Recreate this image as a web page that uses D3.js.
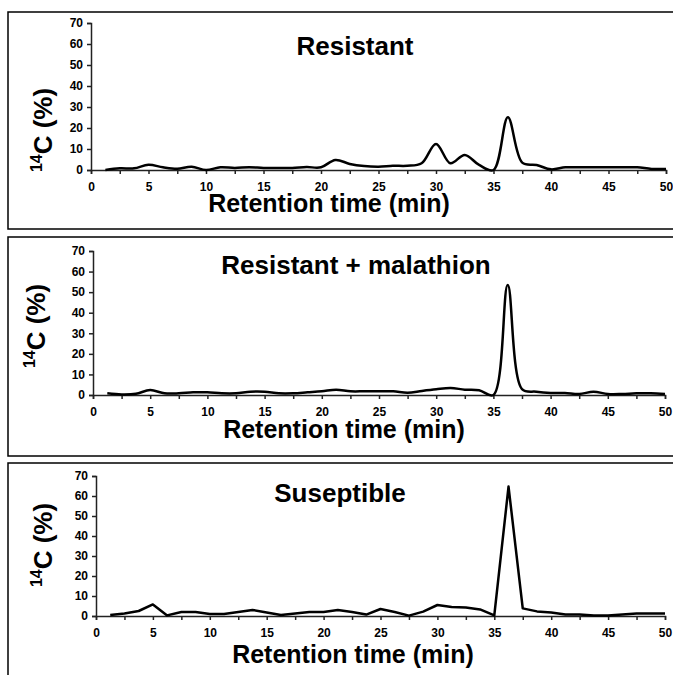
<!DOCTYPE html>
<html lang="en">
<head>
<meta charset="utf-8">
<title>Retention time chromatograms</title>
<script src="https://d3js.org/d3.v7.min.js"></script>
<style>
body { margin: 0; background: #fff; }
svg { display: block; font-family: Arial, "Liberation Sans", sans-serif; font-weight: bold; }
.tick text { font-size: 12px; font-weight: bold; fill: #000; }
</style>
</head>
<body>
<svg width="673" height="675"></svg>
<script>
// fraction times (min), one fraction every 1.25 min
var times = [1.25, 2.5, 3.75, 5, 6.25, 7.5, 8.75, 10, 11.25, 12.5, 13.75, 15, 16.25, 17.5, 18.75, 20,
  21.25, 22.5, 23.75, 25, 26.25, 27.5, 28.75, 30, 31.25, 32.5, 33.75, 35, 36.25, 37.5, 38.75, 40,
  41.25, 42.5, 43.75, 45, 46.25, 47.5, 48.75, 50];

var resistant = [0, 0.8, 0.8, 2.5, 1.3, 0.6, 1.6, 0, 1.3, 1, 1.3, 1, 1, 1, 1.4, 1.3,
  4.8, 2.9, 1.9, 1.6, 2, 2, 3.2, 12.4, 3.2, 7.2, 2.4, 0, 25.1, 3.5, 2.4, 0.3,
  1.3, 1.3, 1.3, 1.3, 1.3, 1.3, 0.5, 0.5];

var resistantMal = [0.8, 0.3, 0.6, 2.4, 0.8, 0.8, 1.3, 1.3, 0.8, 0.8, 1.6, 1.6, 0.8, 0.8, 1.3, 1.8,
  2.6, 1.8, 1.8, 1.8, 1.8, 1.1, 2, 2.8, 3.4, 2.6, 2.3, 0, 53.5, 2.9, 1.6, 1,
  1, 0.5, 1.6, 0.5, 0.5, 0.8, 0.8, 0.5];

var susceptible = [0.5, 1.3, 2.5, 5.8, 0.3, 2, 2, 1, 1, 2, 3, 1.8, 0.5, 1.2, 2, 2,
  3, 2, 0.7, 3.5, 2, 0.2, 2.2, 5.5, 4.5, 4.3, 3.3, 0.3, 64.7, 3.8, 2.3, 1.8,
  0.7, 0.8, 0.3, 0.2, 0.8, 1.3, 1.3, 1.3];

var xTicks = d3.range(0, 50.01, 2.5);
var xLabels = [0, 5, 10, 15, 20, 25, 30, 35, 40, 45, 50];
var yTicks = [0, 10, 20, 30, 40, 50, 60, 70];

var panels = [
  { title: "Resistant", values: resistant, smooth: true,
    box: [8, 12, 229], x: [91, 666], y: [170, 23],
    titleX: 355, titleY: 55, xTitleX: 329, xTitleY: 212, yTitleX: 52, yTitleY: 130 },
  { title: "Resistant + malathion", values: resistantMal, smooth: true,
    box: [8, 237, 456], x: [93, 665], y: [395, 251],
    titleX: 356, titleY: 274, xTitleX: 344, xTitleY: 438, yTitleX: 45, yTitleY: 326 },
  { title: "Suseptible", values: susceptible, smooth: false,
    box: [8, 463, 690], x: [96, 665], y: [616, 476],
    titleX: 340, titleY: 502, xTitleX: 353, xTitleY: 663, yTitleX: 52, yTitleY: 545 }
];

var svg = d3.select("svg");

panels.forEach(function(p) {
  var g = svg.append("g");

  g.append("rect")
    .attr("x", p.box[0]).attr("y", p.box[1])
    .attr("width", 700).attr("height", p.box[2] - p.box[1])
    .attr("fill", "none").attr("stroke", "#000").attr("stroke-width", 1.5);

  var x = d3.scaleLinear().domain([0, 50]).range(p.x);
  var y = d3.scaleLinear().domain([0, 70]).range(p.y);

  var xAxis = d3.axisBottom(x)
    .tickValues(xTicks)
    .tickSize(4)
    .tickPadding(8)
    .tickFormat(function(d) { return xLabels.indexOf(d) >= 0 ? d : ""; });

  g.append("g")
    .attr("transform", "translate(0," + p.y[0] + ")")
    .call(xAxis)
    .call(function(a) {
      a.selectAll("path, line").attr("stroke", "#222").attr("stroke-width", 1.5);
      a.selectAll("text").attr("font-family", null);
    });

  g.append("g")
    .attr("transform", "translate(" + p.x[0] + ",0)")
    .call(d3.axisLeft(y).tickValues(yTicks).tickSize(4).tickPadding(4))
    .call(function(a) {
      a.selectAll("path, line").attr("stroke", "#222").attr("stroke-width", 1.5);
      a.selectAll("text").attr("font-family", null);
    });

  var line = d3.line()
    .x(function(d, i) { return x(times[i]); })
    .y(function(d) { return y(d); })
    .curve(p.smooth ? d3.curveCatmullRom.alpha(0.5) : d3.curveLinear);

  g.append("path")
    .datum(p.values)
    .attr("d", line)
    .attr("fill", "none")
    .attr("stroke", "#000")
    .attr("stroke-width", 2.5)
    .attr("stroke-linejoin", "round");

  g.append("text")
    .attr("x", p.titleX).attr("y", p.titleY)
    .attr("text-anchor", "middle")
    .attr("font-size", 26)
    .text(p.title);

  g.append("text")
    .attr("x", p.xTitleX).attr("y", p.xTitleY)
    .attr("text-anchor", "middle")
    .attr("font-size", 25)
    .text("Retention time (min)");

  var yt = g.append("text")
    .attr("transform", "translate(" + p.yTitleX + "," + p.yTitleY + ") rotate(-90)")
    .attr("text-anchor", "middle")
    .attr("font-size", 26);
  yt.append("tspan").attr("font-size", 16).attr("dy", -10).text("14");
  yt.append("tspan").attr("dy", 10).text("C (%)");
});
</script>
</body>
</html>
